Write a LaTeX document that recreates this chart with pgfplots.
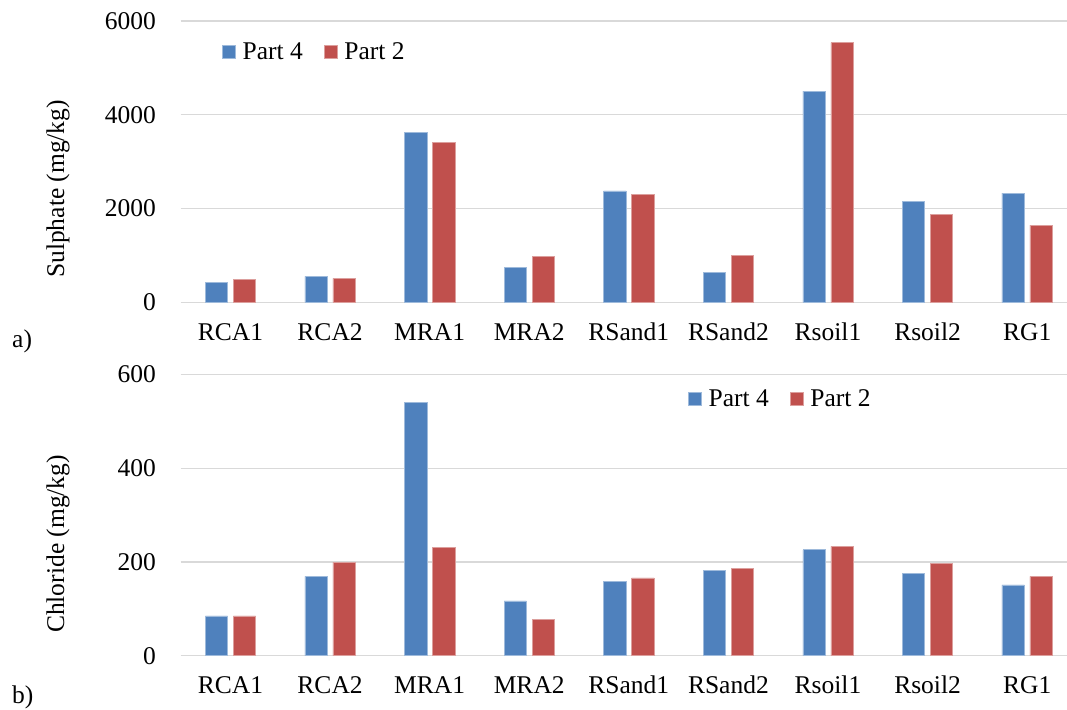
\documentclass[border=0pt]{standalone}
\usepackage{pgfplots}
\pgfplotsset{compat=1.18}
\usepackage{fontspec}
\setmainfont{Liberation Serif}
\definecolor{pblue}{HTML}{4F81BD}
\definecolor{pred}{HTML}{C0504D}
\definecolor{gridgray}{HTML}{D9D9D9}
\pgfplotsset{
  myaxis/.style={
    ybar, scale only axis, width=886.3pt, height=281.3pt,
    xmin=-0.5, xmax=8.4, ymin=0, enlargelimits=false,
    xtick={0,...,8},
    xticklabels={RCA1,RCA2,MRA1,MRA2,RSand1,RSand2,Rsoil1,Rsoil2,RG1},
    axis line style={draw=none}, major tick length=0pt,
    ymajorgrids, grid style={draw=gridgray, line width=1.3pt},
    font=\fontsize{25.5}{30}\selectfont,
    /pgf/number format/assume math mode=true,
    /pgf/number format/1000 sep={},
    scaled y ticks=false,
    yticklabel style={anchor=east, inner sep=0pt, xshift=-24.7pt},
    xticklabel style={anchor=base, inner sep=0pt, yshift=-38pt},
    bar width=22.4pt,
    legend columns=2,
    legend image code/.code={\fill[##1] (0pt,-6.5pt) rectangle (13pt,6.5pt);},
    legend style={draw=none, fill=none, inner sep=0pt, outer sep=0pt, anchor=west,
      nodes={inner sep=0pt},
      /tikz/every odd column/.append style={column sep=7pt},
      /tikz/every even column/.append style={column sep=21pt}},
  },
  p4/.style={fill=pblue, draw=pblue!55!white, line width=0.6pt, bar shift=-14pt},
  p2/.style={fill=pred, draw=pred!55!white, line width=0.6pt, bar shift=14pt},
}
\begin{document}
\begin{tikzpicture}
\useasboundingbox (0pt,0pt) rectangle (1067pt,-709pt);
\begin{axis}[myaxis, at={(180.7pt,-302.3pt)}, anchor=south west,
  ymax=6000, ytick={0,2000,4000,6000},
  ylabel={Sulphate (mg/kg)},
  ylabel style={at={(axis description cs:-0.1384,0.403)}, anchor=center},
  legend style={at={(axis description cs:0.0466,0.8916)}}]
\addplot[p4] coordinates {(0,420) (1,555) (2,3616) (3,747) (4,2377) (5,641) (6,4505) (7,2149) (8,2327)};
\addplot[p2] coordinates {(0,491) (1,512) (2,3416) (3,982) (4,2299) (5,996) (6,5537) (7,1872) (8,1644)};
\legend{Part 4, Part 2}
\end{axis}
\begin{axis}[myaxis, at={(180.7pt,-655.7pt)}, anchor=south west,
  ymax=600, ytick={0,200,400,600},
  ylabel={Chloride (mg/kg)},
  ylabel style={at={(axis description cs:-0.1384,0.397)}, anchor=center},
  legend style={at={(axis description cs:0.5724,0.9147)}}]
\addplot[p4] coordinates {(0,85) (1,169) (2,540) (3,117) (4,159) (5,182) (6,226) (7,176) (8,151)};
\addplot[p2] coordinates {(0,85) (1,199) (2,231) (3,78) (4,166) (5,186) (6,233) (7,197) (8,169)};
\legend{Part 4, Part 2}
\end{axis}
\node[anchor=base west, inner sep=0pt, font=\fontsize{25.5}{30}\selectfont] at (12pt,-347pt) {a)};
\node[anchor=base west, inner sep=0pt, font=\fontsize{25.5}{30}\selectfont] at (12pt,-703pt) {b)};
\end{tikzpicture}
\end{document}
